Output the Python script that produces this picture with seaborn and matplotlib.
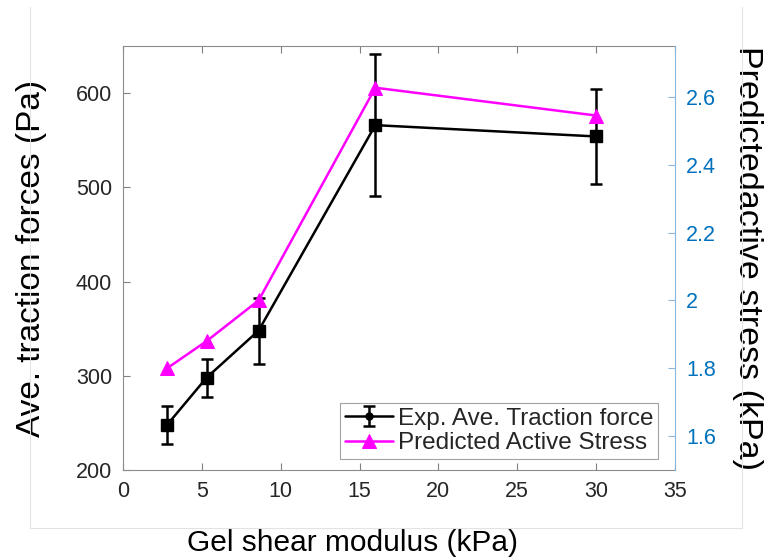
import numpy as np
import pandas as pd
import seaborn as sns
import matplotlib
matplotlib.use("Agg")
import matplotlib.pyplot as plt
from matplotlib.lines import Line2D
from matplotlib.legend_handler import HandlerErrorbar

# ---- data ----
modulus = [2.8, 5.3, 8.6, 16.0, 30.0]
traction = [248, 298, 348, 566, 554]
traction_err = [20, 20, 35, 75, 50]
stress = [1.80, 1.88, 2.00, 2.627, 2.545]

x_ticks = [0, 5, 10, 15, 20, 25, 30, 35]
left_ticks = [200, 300, 400, 500, 600]
right_ticks = [1.6, 1.8, 2.0, 2.2, 2.4, 2.6]
right_ticklabels = ["1.6", "1.8", "2", "2.2", "2.4", "2.6"]

sns.set_theme(style="white")
plt.rcParams['font.family'] = ['Liberation Sans', 'DejaVu Sans']

df = pd.DataFrame({"modulus": modulus, "traction": traction,
                   "err": traction_err, "stress": stress})

fig = plt.figure(figsize=(7.69, 5.59), dpi=100)
ax = fig.add_axes([123/769, 89/559, 552/769, 424/559])
ax2 = ax.twinx()

# black errorbar series
eb = ax.errorbar(df["modulus"], df["traction"], yerr=df["err"], color="black",
                 marker="s", markersize=8, linewidth=1.8, elinewidth=1.8,
                 capsize=4, capthick=1.8, label="Exp. Ave. Traction force", zorder=3)

# magenta predicted line
sns.lineplot(data=df, x="modulus", y="stress", ax=ax2, color="#FF00FF",
             marker="^", markersize=10, markeredgecolor="#FF00FF", linewidth=1.8,
             label="Predicted Active Stress", legend=False)

ax.set_xlim(0, 35)
ax.set_ylim(200, 650)
ax2.set_ylim(1.5, 2.75)
ax.set_xticks(x_ticks)
ax.set_yticks(left_ticks)
ax2.set_yticks(right_ticks)
ax2.set_yticklabels(right_ticklabels)

tick_fs = 15.5
ax.tick_params(axis="both", direction="in", length=5, width=0.8, color="#7f7f7f",
               labelsize=tick_fs, labelcolor="#262626", top=True, bottom=True,
               left=True, right=False, pad=8)
ax2.tick_params(axis="y", direction="in", length=5, width=0.8, color="#8ab6dc",
                labelsize=tick_fs, labelcolor="#0072BD", right=True, pad=8)
ax2.tick_params(axis="x", top=False, bottom=False)

for s in ["left", "bottom", "top"]:
    ax.spines[s].set_color("#8c8c8c")
    ax.spines[s].set_linewidth(0.8)
    ax2.spines[s].set_visible(False)
ax.spines["right"].set_visible(False)
ax2.spines["right"].set_color("#8ab6dc")
ax2.spines["right"].set_linewidth(0.8)
ax2.spines["left"].set_visible(False)
ax2.grid(False)
ax.grid(False)

ax.set_xlabel("Gel shear modulus (kPa)", fontsize=21.5, color="black")
ax.set_ylabel("Ave. traction forces (Pa)", fontsize=24, color="black")
ax2.set_ylabel("Predictedactive stress (kPa)", fontsize=24.5, color="black",
               rotation=270, va="bottom")
ax.xaxis.set_label_coords(0.415, -0.14)
ax.yaxis.set_label_coords(-0.138, 0.5)
ax2.yaxis.set_label_coords(1.103, 0.5)
ax2.set_xlabel("")


def upd(lh, oh):
    lh.update_from(oh)
    if isinstance(lh, Line2D) and lh.get_marker() == "s":
        lh.set_marker("o")
        lh.set_markersize(5)


h2 = ax2.get_lines()[0]
leg = ax2.legend([eb, h2], ["Exp. Ave. Traction force", "Predicted Active Stress"],
                 handler_map={type(eb): HandlerErrorbar(xerr_size=0.0, yerr_size=0.4,
                                                        update_func=upd)},
                 loc="lower right", bbox_to_anchor=(0.97, 0.026), fontsize=17.5,
                 frameon=True, fancybox=False, edgecolor="#8c8c8c",
                 handlelength=2.0, handletextpad=0.2, borderpad=0.2,
                 labelspacing=0.1, borderaxespad=0)
leg.get_frame().set_linewidth(0.8)
leg.set_zorder(10)

# faint frame lines present in the reference image
for (x0, y0, x1, y1) in [(30, 7, 30, 528), (30, 528, 742, 528), (742, 7, 742, 528)]:
    fig.add_artist(Line2D([x0/769, x1/769], [1 - y0/559, 1 - y1/559],
                          color="#e3e3e3", linewidth=0.8))

fig.savefig("out.png", dpi=100)
